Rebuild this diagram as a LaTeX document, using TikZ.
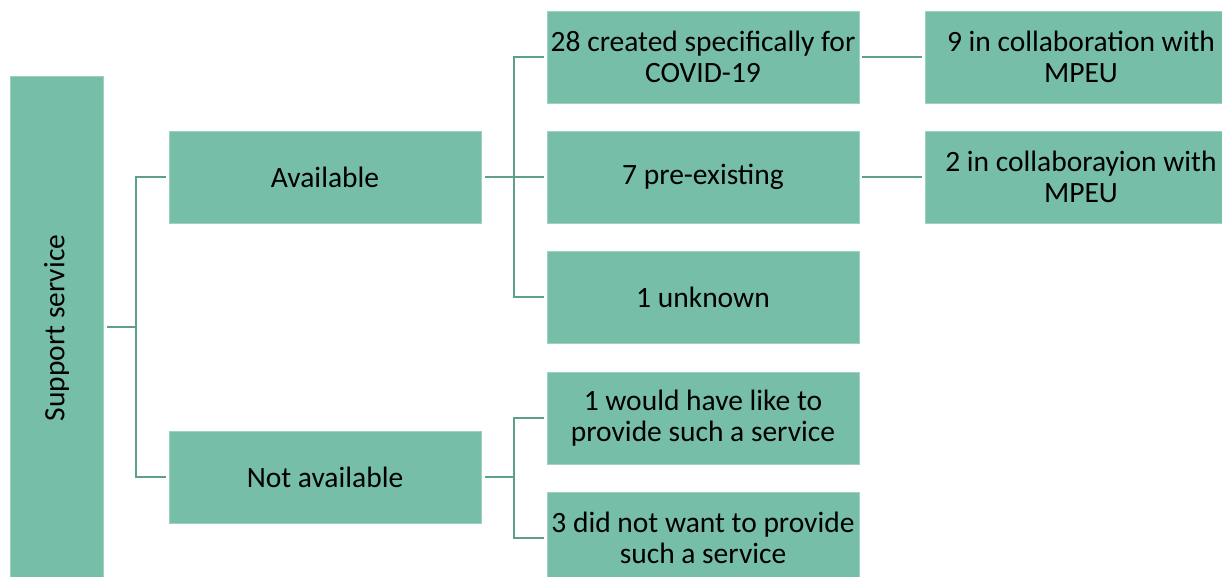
\documentclass[tikz,border=0pt]{standalone}
\usepackage{fontspec}
\setmainfont{Carlito}
\definecolor{boxfill}{HTML}{76BEA8}
\definecolor{linec}{HTML}{5E9F8A}
\begin{document}
\begin{tikzpicture}[x=1pt,y=-1pt,
  box/.style={rectangle,fill=boxfill,draw=boxfill!70!white,line width=0.6pt,
    minimum width=312pt,minimum height=92pt,inner sep=2pt,align=center,
    font=\fontsize{29.5}{31.5}\selectfont,text=black},
  conn/.style={draw=linec,line width=2.5pt}]
\useasboundingbox (0,0) rectangle (1222,576);
\clip (0,0) rectangle (1222,576);
% root
\node[box,rotate=90,minimum width=504pt,minimum height=93pt] (root) at (56.5,328) {Support service};
% level 1
\node[box] (avail) at (325,177) {Available};
\node[box] (notav) at (325,477) {Not available};
% level 2
\node[box] (c28) at (703,57) {28 created specifically for\\COVID-19};
\node[box] (pre) at (703,177) {7 pre-existing};
\node[box] (unk) at (703,297) {1 unknown};
\node[box] (would) at (703,418) {1 would have like to\\provide such a service};
\node[box] (didnot) at (703,538) {3 did not want to provide\\such a service};
% level 3
\node[box] (nine) at (1081,57) {9 in collaboration with\\MPEU};
\node[box] (two) at (1081,177) {2 in collaborayion with\\MPEU};
% connectors
\coordinate (r1) at (136,0);
\coordinate (a1) at (514,0);
\draw[conn] ([xshift=4pt]root.south |- 0,327) -- (r1 |- 0,327);
\draw[conn] ([xshift=-3pt]avail.west) -| (r1 |- 0,327) |- ([xshift=-3pt]notav.west);
\draw[conn] ([xshift=4pt]avail.east) -- (a1 |- avail.east);
\draw[conn] ([xshift=-3pt]c28.west) -| (a1 |- unk.west) -- ([xshift=-3pt]unk.west);
\draw[conn] (a1 |- pre.west) -- ([xshift=-3pt]pre.west);
\draw[conn] ([xshift=4pt]notav.east) -- (a1 |- notav.east);
\draw[conn] ([xshift=-3pt]would.west) -| (a1 |- didnot.west) -- ([xshift=-3pt]didnot.west);
\draw[conn] ([xshift=3pt]c28.east) -- ([xshift=-3pt]nine.west);
\draw[conn] ([xshift=3pt]pre.east) -- ([xshift=-3pt]two.west);
\end{tikzpicture}
\end{document}
